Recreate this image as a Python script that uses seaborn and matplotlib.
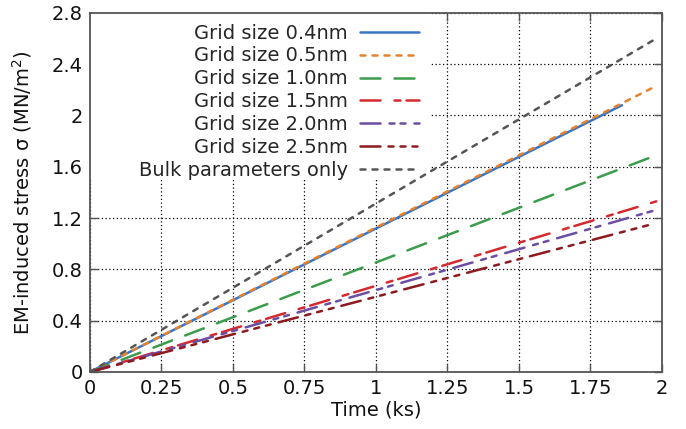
import matplotlib
matplotlib.use("Agg")
import matplotlib.pyplot as plt
from matplotlib.patches import Rectangle
import seaborn as sns

# series (time in ks, stress in MN/m^2)
labels = [
    "Grid size 0.4nm",
    "Grid size 0.5nm",
    "Grid size 1.0nm",
    "Grid size 1.5nm",
    "Grid size 2.0nm",
    "Grid size 2.5nm",
    "Bulk parameters only",
]
time_end = [1.86, 1.98, 1.98, 1.98, 1.99, 1.97, 1.98]
stress_end = [2.08, 2.23, 1.69, 1.33, 1.27, 1.155, 2.60]

colors = ["#3a75c4", "#e5822e", "#3b9c4b", "#d42a2f", "#6b4ea3", "#8c1a1f", "#555555"]
# gnuplot-like dash patterns (in linewidth units), None = solid
dash_styles = [None,
               (2, 2.8),
               (8, 5.6),
               (8, 5.6, 2.4, 2.4),
               (8, 3.6, 2, 2.4, 2, 3.6),
               (8, 3.2, 2, 2.8, 2, 2.8, 2, 3.2),
               (2, 2.8)]

x_ticks = [0, 0.25, 0.5, 0.75, 1, 1.25, 1.5, 1.75, 2]
x_ticklabels = ["0", "0.25", "0.5", "0.75", "1", "1.25", "1.5", "1.75", "2"]
y_ticks = [0, 0.4, 0.8, 1.2, 1.6, 2, 2.4, 2.8]
y_ticklabels = ["0", "0.4", "0.8", "1.2", "1.6", "2", "2.4", "2.8"]

sns.set_theme(style="white")
plt.rcParams["font.family"] = ["DejaVu Sans"]

fig = plt.figure(figsize=(6.86, 4.29), dpi=100)
ax = fig.add_axes([0.131, 0.133, 0.834, 0.837])

for lab, te, se, c, d in zip(labels, time_end, stress_end, colors, dash_styles):
    sns.lineplot(x=[0, te], y=[0, se], ax=ax, color=c, label=lab, linewidth=1.8)
    line = ax.lines[-1]
    if d is not None:
        line.set_dashes(d)
    line.set_dash_capstyle("round")

ax.set_xlim(0, 2)
ax.set_ylim(0, 2.8)
ax.set_xticks(x_ticks)
ax.set_xticklabels(x_ticklabels)
ax.set_yticks(y_ticks)
ax.set_yticklabels(y_ticklabels)
ax.set_axisbelow(True)
ax.grid(True, linestyle=(0, (1, 2)), color="black", linewidth=0.9)
ax.tick_params(direction="in", length=6, width=1, colors="#555555",
               labelcolor="#111111", labelsize=14, top=True, right=True,
               bottom=True, left=True, pad=5)
for s in ax.spines.values():
    s.set_color("#555555")
    s.set_linewidth(1.3)

# opaque key area (hides the grid behind the legend, like gnuplot's key)
ax.add_patch(Rectangle((0, 0.535), 0.594, 0.465, transform=ax.transAxes,
                       facecolor="white", edgecolor="none", zorder=1))

ax.set_xlabel("Time (ks)", fontsize=14, color="#111111", labelpad=2)
ax.set_ylabel("EM-induced stress σ (MN/m$^2$)", fontsize=14, color="#111111",
              labelpad=13)

leg = ax.legend(loc="upper right", bbox_to_anchor=(0.582, 0.981), frameon=False,
                markerfirst=False, fontsize=14, handlelength=3.05,
                handletextpad=0.6, labelspacing=0.2, borderaxespad=0,
                borderpad=0.2)

fig.savefig("out.png", dpi=100)
